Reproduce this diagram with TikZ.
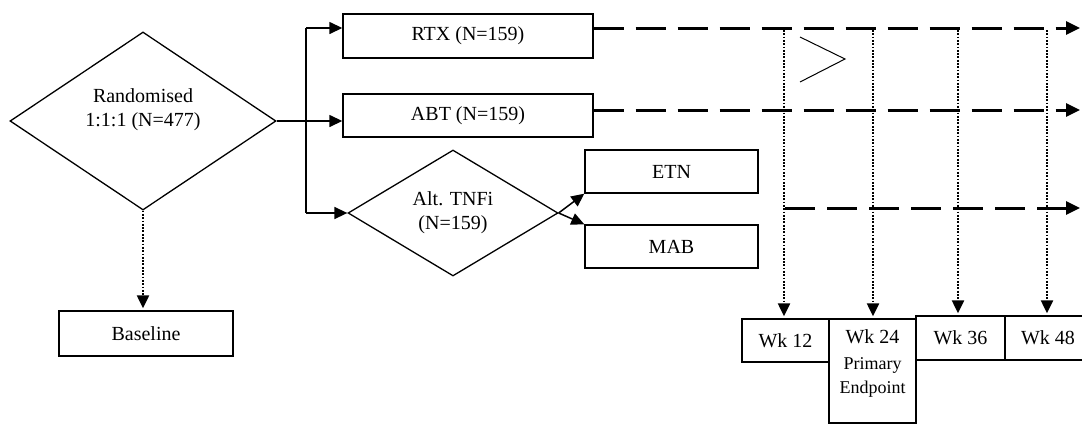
\documentclass[tikz,border=0pt]{standalone}
\usepackage{fontspec}
\setmainfont{Liberation Serif}
\usetikzlibrary{shapes.geometric,arrows.meta}
\newcommand{\smallfnt}{\fontsize{18}{16}\selectfont}
\begin{document}
\begin{tikzpicture}[x=1pt,y=-1pt,
  mainfont/.style={font=\fontsize{20}{24}\selectfont},
  box/.style={draw=black, line width=1.4pt, rectangle, inner sep=0pt, align=center, mainfont},
  dia/.style={draw=black, line width=1.3pt, diamond, inner sep=0pt, align=center, mainfont},
  arr/.style={line width=1.5pt, -{Triangle[length=13pt,width=12pt]}},
  plain/.style={line width=1.3pt},
  dashline/.style={line width=3pt, dash pattern=on 30pt off 12pt, -{Triangle[length=14pt,width=13pt]}},
  dotarrow/.style={line width=2.3pt, dash pattern=on 1.8pt off 1.5pt, -{Triangle[length=13pt,width=12pt]}, shorten >=2pt},
  thinshape/.style={line width=1pt}
]
\useasboundingbox (0,0) rectangle (1082,431);
\clip (0,0) rectangle (1082,431);

% nodes
\node[dia, minimum width=266pt, minimum height=178pt,
  label={[mainfont, align=center, inner sep=0pt, yshift=11pt]center:{Randomised\\1:1:1 (N=477)}}] (rand) at (143,121) {};
\node[box, minimum width=174pt, minimum height=45pt] (base) at (146,333.5) {Baseline};
\node[box, minimum width=250pt, minimum height=44pt] (rtx) at (468,36) {RTX (N=159)};
\node[box, minimum width=250pt, minimum height=43pt] (abt) at (468,115.5) {ABT (N=159)};
\node[dia, minimum width=210pt, minimum height=126pt] (alt) at (453,213) {Alt. TNFi\\(N=159)};
\node[box, minimum width=173pt, minimum height=43pt] (etn) at (671.5,171.5) {ETN};
\node[box, minimum width=173pt, minimum height=43pt] (mab) at (671.5,246.5) {MAB};
\node[box, minimum width=87pt, minimum height=43pt] (w12) at (785.5,340.5) {Wk 12};
\node[box, minimum width=87pt, minimum height=104pt,
  label={[anchor=north, align=center, inner sep=0pt, yshift=-11pt, mainfont]north:{Wk 24\\[2pt]{\smallfnt Primary}\\{\smallfnt Endpoint}}}] (w24) at (872.5,371) {};
\node[box, minimum width=89pt, minimum height=44pt] (w36) at (960.5,338) {Wk 36};
\node[box, minimum width=86pt, minimum height=44pt] (w48) at (1048,338) {Wk 48};

% split from randomisation
\coordinate (sp1) at (306,28);
\coordinate (sp2) at (alt.west -| sp1);
\draw[plain] (sp1) -- (sp2);
\draw[arr] (sp1) -- (sp1 -| rtx.west);
\draw[arr] (rand.east) -- (rand.east -| abt.west);
\draw[arr] (sp2) -- (alt.west);
\draw[dotarrow] (rand.south) -- (rand.south |- base.north);

% alt TNFi branches
\draw[arr] (alt.east) -- (etn.south west);
\draw[arr] (alt.east) -- (mab.north west);

% timelines
\coordinate (rtxend) at (1080,28);
\coordinate (abtend) at (1080,110);
\coordinate (altstart) at (785,208);
\coordinate (altend) at (1080,208);

% visit markers
\coordinate (t1) at (784,30);
\coordinate (t2) at (873,30);
\coordinate (t3) at (958,30);
\coordinate (t4) at (1047,30);
\draw[dotarrow] (t1) -- (t1 |- w12.north);
\draw[dotarrow] (t2) -- (t2 |- w24.north);
\draw[dotarrow] (t3) -- (t3 |- w36.north);
\draw[dotarrow] (t4) -- (t4 |- w48.north);

\draw[dashline] (rtx.east |- rtxend) -- (rtxend);
\draw[dashline] (abt.east |- abtend) -- (abtend);
\draw[dashline] (altstart) -- (altend);

% chevron
\draw[thinshape] (800,37) -- (845,59) -- (800,82);
\end{tikzpicture}
\end{document}
